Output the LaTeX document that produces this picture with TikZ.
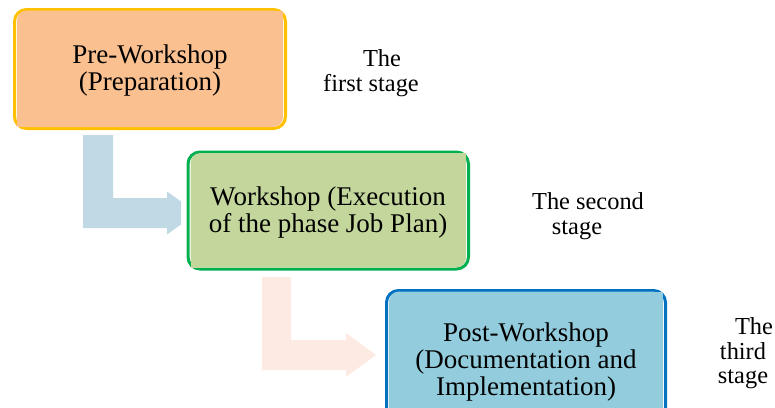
\documentclass[tikz,border=0pt]{standalone}
\usepackage{fontspec}
\setmainfont{Liberation Serif}
\newfontfamily\stagefont{Liberation Serif}
\usetikzlibrary{calc}

\definecolor{preFill}{HTML}{FAC090}
\definecolor{preLine}{HTML}{FFC000}
\definecolor{wsFill}{HTML}{C3D69B}
\definecolor{wsLine}{HTML}{00B050}
\definecolor{postFill}{HTML}{93CDDD}
\definecolor{postLine}{HTML}{0070C0}
\definecolor{arrBlue}{HTML}{C0D9E4}
\definecolor{arrPeach}{HTML}{FDEAE2}

% fill of a stage box: rounded at two corners, square at the other two
\newcommand\stagefill[2]{%
  \fill[#2, rounded corners=10pt] ($(#1.north west)+(2.5,1)$) rectangle ($(#1.south east)+(-2.5,-1.5)$);
  \fill[#2] ($(#1.north east)+(-12.5,1)$) rectangle ($(#1.north east)+(-2.5,11)$);
  \fill[#2] ($(#1.south west)+(2.5,-1.5)$) rectangle ($(#1.south west)+(12.5,-11.5)$);
}

\begin{document}
\begin{tikzpicture}[x=1pt, y=-1pt,
  frame/.style={draw=#1, line width=3pt, rounded corners=12pt, inner sep=0pt, outer sep=0pt},
  boxtext/.style={font=\stagefont\fontsize{27}{27}\selectfont, align=center, inner sep=0pt},
  sidetext/.style={font=\stagefont\fontsize{24.4}{25}\selectfont, align=center, inner sep=0pt}]
\useasboundingbox (0,0) rectangle (775,407);

% stage frames
\node[frame=preLine, minimum width=271pt, minimum height=119pt] (p1) at (150,69) {};
\node[frame=wsLine, minimum width=280.5pt, minimum height=117pt] (p2) at (328.25,210.5) {};
\node[frame=postLine, minimum width=279pt, minimum height=134.5pt] (p3) at (526,357.75) {};

\stagefill{p1}{preFill}
\stagefill{p2}{wsFill}
\stagefill{p3}{postFill}

% bent block arrow from stage 1 to stage 2 (tip hidden at the box edge)
\coordinate (a1s) at ($(p1.south west)+(68.5,6.5)$);
\coordinate (a1e) at ($(p2.west)+(-7,2.5)$);
\fill[arrBlue] (a1s) -- ++(30,0) -- ($(a1s |- a1e)+(30,-15)$) -- ($(a1e)+(-14,-15)$)
  -- ($(a1e)+(-14,-21.5)$) -- ($(a1e)+(0,-11.5)$) -- ($(a1e)+(0,11.5)$)
  -- ($(a1e)+(-14,21.5)$) -- ($(a1e)+(-14,15)$) -- ($(a1s |- a1e)+(0,15)$) -- cycle;

% bent block arrow from stage 2 to stage 3
\coordinate (a2s) at ($(p2.south west)+(74,8)$);
\coordinate (a2e) at ($(p3.west)+(-10.5,-2.75)$);
\fill[arrPeach] (a2s) -- ++(29,0) -- ($(a2s |- a2e)+(29,-15)$) -- ($(a2e)+(-30,-15)$)
  -- ($(a2e)+(-30,-22)$) -- (a2e) -- ($(a2e)+(-30,22)$) -- ($(a2e)+(-30,15)$)
  -- ($(a2s |- a2e)+(0,15)$) -- cycle;

% box texts
\node[boxtext] (t1) at (150,70.2) {Pre-Workshop\\(Preparation)};
\node[boxtext] (t2) at (328,212.2) {Workshop (Execution\\of the phase Job Plan)};
\node[boxtext] (t3) at (526,362.2) {Post-Workshop\\(Documentation and\\Implementation)};

% stage labels
\node[sidetext] (s1) at (371,73) {\mbox{\hspace{22pt}The}\\first stage};
\node[sidetext] (s2) at (588,216.5) {The second\\\mbox{stage\hspace{22pt}}};
\node[sidetext, font=\stagefont\fontsize{24.4}{24.5}\selectfont] (s3) at (743,353.5) {\mbox{\hspace{22pt}The}\\third\\stage};
\end{tikzpicture}
\end{document}
